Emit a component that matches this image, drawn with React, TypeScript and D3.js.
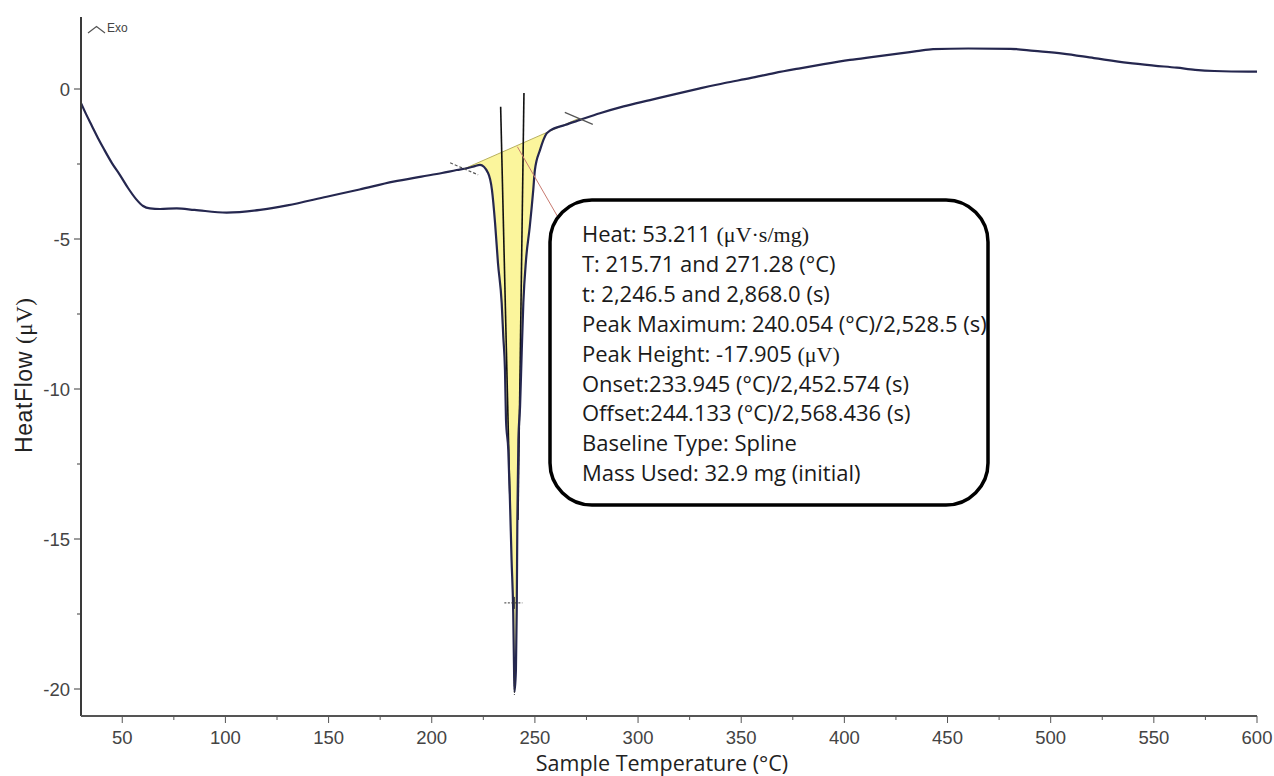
import React from 'react';
import * as d3 from 'd3';

// Sample temperature (°C) and heat flow (µV)
const TEMP = [30, 32.4, 35.3, 38.2, 41.1, 45.0, 48.9, 52.8, 56.7, 60.1, 63.4, 68.3, 76.4, 85, 100.6, 116.8, 130, 149.1, 165, 181.4, 195, 205, 212.1, 217, 220.5, 223.4,
  227.3, 229.2, 230.7, 232.1, 233.9, 234.7, 235.5, 236.0, 237.1, 237.9, 238.7, 239.5, 239.9, 240.1,
  240.8, 241.2, 241.5, 242.0, 242.8, 243.6, 244.4, 245.7, 247.5, 249.2, 250.0, 252.5, 255.7, 257.3,
  264.6, 271.9, 281.5, 293, 305.8, 318, 330, 342, 354.3, 366, 378.5, 390, 402.7, 415, 427, 435, 443, 460, 480.6, 492, 505.9, 521, 537.5, 550, 561.1, 570, 579.3, 595.7, 600];
const HEAT = [-0.47, -0.83, -1.23, -1.63, -2.0, -2.47, -2.87, -3.3, -3.67, -3.9, -3.98, -4.0, -3.98, -4.03, -4.12, -4.03, -3.88, -3.59, -3.35, -3.09, -2.92, -2.8, -2.7, -2.64, -2.58, -2.53,
  -2.8, -3.37, -4.47, -5.8, -7.13, -8.27, -9.37, -11.03, -12.03, -13.7, -15.7, -17.47, -19.37, -20.1,
  -19.37, -17.37, -14.37, -11.7, -10.6, -8.8, -7.13, -5.7, -4.6, -3.37, -2.7, -2.03, -1.48, -1.39,
  -1.2, -1.03, -0.81, -0.58, -0.37, -0.17, 0.02, 0.2, 0.36, 0.53, 0.69, 0.83, 0.97, 1.08, 1.19, 1.26, 1.33, 1.35, 1.34, 1.27, 1.18, 1.03, 0.87, 0.78, 0.71, 0.64, 0.6, 0.58, 0.58];

const X_TICKS = [50, 100, 150, 200, 250, 300, 350, 400, 450, 500, 550, 600];
const X_MINOR = [75, 125, 175, 225, 275, 325, 375, 425, 475, 525, 575];
const Y_TICKS = [0, -5, -10, -15, -20];
const Y_MINOR = [-2.5, -7.5, -12.5, -17.5];

// integration limits and spline baseline end values
const LIMIT_T = [215.71, 271.28];
const BASE_V = [-2.66, -0.98];
// tangent lines (onset / offset)
const TAN_LEFT_T = [233.4, 237.9];
const TAN_LEFT_V = [-0.59, -13.7];
const TAN_RIGHT_T = [244.7, 241.8];
const TAN_RIGHT_V = [-0.13, -14.37];
const PEAK_T = 240.054;
const PEAK_MARK_V = -17.13;
const PEAK_TIP_V = [-19.37, -20.2];

const ANNOT_LINES: [string, string][] = [
  ['Heat: 53.211 ', '(μV·s/mg)'],
  ['T: 215.71 and 271.28 (°C)', ''],
  ['t: 2,246.5 and 2,868.0 (s)', ''],
  ['Peak Maximum: 240.054 (°C)/2,528.5 (s)', ''],
  ['Peak Height: -17.905 ', '(μV)'],
  ['Onset:233.945 (°C)/2,452.574 (s)', ''],
  ['Offset:244.133 (°C)/2,568.436 (s)', ''],
  ['Baseline Type: Spline', ''],
  ['Mass Used: 32.9 mg (initial)', ''],
];

export default function App() {
  const W = 1274, H = 776;
  const x = d3.scaleLinear().domain([30, 600]).range([81, 1257]);
  const y = d3.scaleLinear().domain([-20.9, 2.4]).range([716, 17]);
  const data = TEMP.map((t, i) => ({ t, v: HEAT[i] }));
  const base = d3.scaleLinear().domain(LIMIT_T).range(BASE_V);

  const line = d3.line<{ t: number; v: number }>().x(d => x(d.t)).y(d => y(d.v)).curve(d3.curveMonotoneX);
  const seg = data.filter(d => d.t >= LIMIT_T[0] && d.t <= LIMIT_T[1]);
  const fillPts = [{ t: LIMIT_T[0], v: BASE_V[0] }, ...seg, { t: LIMIT_T[1], v: BASE_V[1] }];
  const area = d3.area<{ t: number; v: number }>()
    .x(d => x(d.t)).y0(d => y(base(d.t))).y1(d => y(Math.min(d.v, base(d.t)))).curve(d3.curveMonotoneX);

  const box = { x: 550, y: 200, w: 438, h: 305, r: 42 };
  const tickFont = '"Liberation Sans", Arial, sans-serif';
  const textFont = '"Open Sans", sans-serif';
  const serif = '"Liberation Serif", "Times New Roman", serif';
  const axisCol = '#3a3a3a';
  const curveCol = '#25274f';

  return (
    <svg width={W} height={H} style={{ position: 'absolute', left: 0, top: 0, background: '#fff' }}>
      {/* peak area */}
      <path d={area(fillPts) || ''} fill="#fbf59c" stroke="none" />
      {/* baseline across the peak */}
      <line x1={x(LIMIT_T[0])} y1={y(BASE_V[0])} x2={x(LIMIT_T[1])} y2={y(BASE_V[1])} stroke="#b8b060" strokeWidth={1} />
      {/* tangent lines */}
      <line x1={x(TAN_LEFT_T[0])} y1={y(TAN_LEFT_V[0])} x2={x(TAN_LEFT_T[1])} y2={y(TAN_LEFT_V[1])} stroke="#111" strokeWidth={1.6} />
      <line x1={x(TAN_RIGHT_T[0])} y1={y(TAN_RIGHT_V[0])} x2={x(TAN_RIGHT_T[1])} y2={y(TAN_RIGHT_V[1])} stroke="#111" strokeWidth={1.6} />
      {/* main curve */}
      <path d={line(data) || ''} fill="none" stroke={curveCol} strokeWidth={2.2} />
      {/* limit markers */}
      {LIMIT_T.map((t, i) => (
        <line key={i} x1={x(t) - 14} y1={y(base(t)) - 6} x2={x(t) + 14} y2={y(base(t)) + 6}
          stroke="#555" strokeWidth={1.2} strokeDasharray={i === 0 ? '3 2' : undefined} />
      ))}
      {/* peak marker */}
      <line x1={x(PEAK_T) - 10} y1={y(PEAK_MARK_V)} x2={x(PEAK_T) + 8} y2={y(PEAK_MARK_V)} stroke="#333" strokeWidth={1} strokeDasharray="2 1.5" />
      <line x1={x(PEAK_T)} y1={y(PEAK_MARK_V) - 6} x2={x(PEAK_T)} y2={y(PEAK_MARK_V) + 6} stroke="#333" strokeWidth={1} />
      <line x1={x(PEAK_T)} y1={y(PEAK_TIP_V[0])} x2={x(PEAK_T)} y2={y(PEAK_TIP_V[1])} stroke="#333" strokeWidth={1} strokeDasharray="1.5 1.5" />

      {/* axes */}
      <line x1={81} y1={17} x2={81} y2={716} stroke={axisCol} strokeWidth={2} />
      <line x1={81} y1={716} x2={1257} y2={716} stroke="#555" strokeWidth={2} />
      {Y_TICKS.map(v => (
        <g key={v}>
          <line x1={74} x2={81} y1={y(v)} y2={y(v)} stroke={axisCol} strokeWidth={1} />
          <text x={70} y={y(v) + 6.5} textAnchor="end" fontFamily={tickFont} fontSize={18.5} fill="#444">{v === 0 ? '0' : '-' + Math.abs(v)}</text>
        </g>
      ))}
      {Y_MINOR.map(v => <line key={v} x1={77} x2={81} y1={y(v)} y2={y(v)} stroke={axisCol} strokeWidth={1} />)}
      {X_TICKS.map(t => (
        <g key={t}>
          <line x1={x(t)} x2={x(t)} y1={716} y2={723} stroke="#555" strokeWidth={1} />
          <text x={x(t)} y={744} textAnchor="middle" fontFamily={tickFont} fontSize={18.5} fill="#444">{t}</text>
        </g>
      ))}
      {X_MINOR.map(t => <line key={t} x1={x(t)} x2={x(t)} y1={716} y2={720} stroke="#555" strokeWidth={1} />)}

      <text x={662} y={771} textAnchor="middle" fontFamily={textFont} fontSize={21.5} fill="#222">Sample Temperature (°C)</text>
      <text transform={`translate(32,453) rotate(-90)`} textAnchor="start" fontFamily={tickFont} fontSize={23} letterSpacing={0.6} fill="#222">
        HeatFlow <tspan fontFamily={serif}>(μV)</tspan>
      </text>

      {/* Exo marker */}
      <polyline points="88,33 96.5,26.5 105,33" fill="none" stroke="#555" strokeWidth={1.2} />
      <text x={107} y={32} fontFamily={tickFont} fontSize={12} fill="#444">Exo</text>

      {/* leader line */}
      <line x1={x(PEAK_T) + 3} y1={y(base(PEAK_T))} x2={box.x + 9} y2={box.y + 19} stroke="#c87a70" strokeWidth={1} />
      {/* annotation box */}
      <rect x={box.x} y={box.y} width={box.w} height={box.h} rx={box.r} ry={box.r} fill="#fff" stroke="#000" strokeWidth={3.5} />
      {ANNOT_LINES.map((ln, i) => (
        <text key={i} x={582} y={242 + i * 29.9} fontFamily={textFont} fontSize={22} fill="#1a1a1a">
          {ln[0]}{ln[1] ? <tspan fontFamily={serif}>{ln[1]}</tspan> : null}
        </text>
      ))}
    </svg>
  );
}
